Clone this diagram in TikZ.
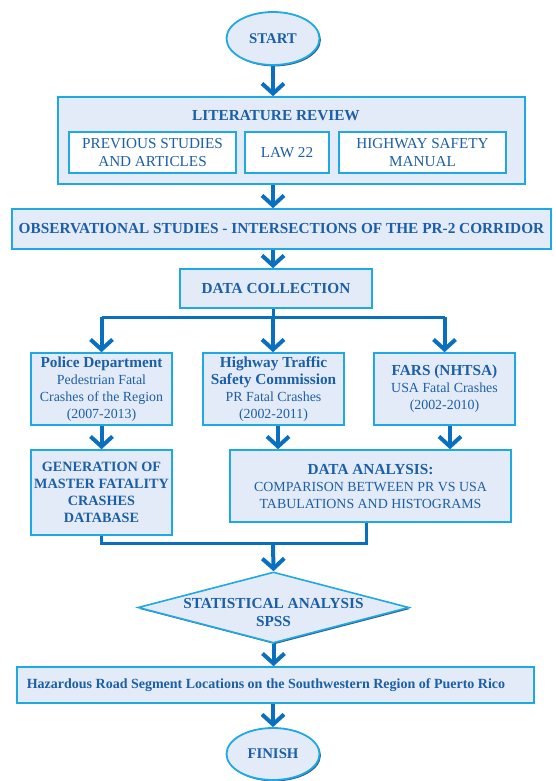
\documentclass[tikz,border=0pt]{standalone}
\usepackage{fontspec}
\setmainfont{Liberation Serif}
\usetikzlibrary{shapes.geometric,arrows.meta,shadows}
\definecolor{boxc}{HTML}{1FA9E3}
\definecolor{fillc}{HTML}{E4EBF8}
\definecolor{textc}{HTML}{1B5FA6}
\definecolor{arrc}{HTML}{0B6FBF}
\definecolor{shadc}{HTML}{2F5E8C}
\newcommand{\bigb}{\fontsize{15.3}{17}\selectfont\bfseries}
\newcommand{\smr}{\fontsize{13.9}{17}\selectfont\mdseries}
\tikzset{
  x=1pt,y=1pt,
  sh/.style={drop shadow={shadow xshift=1.4pt,shadow yshift=-1.4pt,fill=shadc,opacity=1}},
  mainbox/.style={draw=boxc,fill=fillc,line width=1.6pt,inner sep=0pt,text=textc,align=center,sh,
    font=\bigb},
  innerbox/.style={draw=boxc,fill=white,line width=1.3pt,inner sep=0pt,text=textc,align=center,
    font=\fontsize{15.2}{18.5}\selectfont},
  oval/.style={ellipse,draw=boxc,fill=fillc,line width=1.8pt,inner sep=0pt,text=textc,sh,
    font=\fontsize{14.8}{17}\selectfont\bfseries},
  txt/.style={text=textc,align=center,inner sep=0pt,font=\bigb},
  arr/.style={draw=arrc,line width=4pt,-{Straight Barb[length=10pt,width=22pt,line width=4pt]}},
  ln/.style={draw=arrc,line width=3pt},
}
\begin{document}
\begin{tikzpicture}
\useasboundingbox (0,0) rectangle (555,-781);
% start
\node[oval,minimum width=93,minimum height=53] (start) at (273,-38.5) {START};
% literature review
\node[mainbox,minimum width=467,minimum height=87] (lit) at (291.5,-140.5) {};
\node[txt] (littitle) at (276,-116) {LITERATURE REVIEW};
\node[innerbox,minimum width=167,minimum height=41] (prev) at (152.5,-152.5) {PREVIOUS STUDIES\\AND ARTICLES};
\node[innerbox,minimum width=84,minimum height=41] (law) at (287,-152.5) {LAW 22};
\node[innerbox,minimum width=167,minimum height=41] (hsm) at (422.5,-152.5) {HIGHWAY SAFETY\\MANUAL};
% observational
\node[mainbox,minimum width=539,minimum height=40] (obs) at (281.5,-229) {OBSERVATIONAL STUDIES - INTERSECTIONS OF THE PR-2 CORRIDOR};
% data collection
\node[mainbox,minimum width=192,minimum height=39] (dc) at (276,-288.5) {DATA COLLECTION};
% three sources
\node[mainbox,minimum width=141,minimum height=72] (pol) at (101.5,-389) {Police Department\\{\smr Pedestrian Fatal}\\{\smr Crashes of the Region}\\{\smr (2007-2013)}};
\node[mainbox,minimum width=141,minimum height=72] (htsc) at (273.5,-389) {Highway Traffic\\Safety Commission\\{\smr PR Fatal Crashes}\\{\smr (2002-2011)}};
\node[mainbox,minimum width=141,minimum height=72] (fars) at (444.5,-389) {FARS (NHTSA)\\{\smr USA Fatal Crashes}\\{\smr (2002-2010)}};
% second row
\node[mainbox,minimum width=141,minimum height=85,font=\fontsize{14.2}{17}\selectfont\bfseries] (gen) at (101.5,-492.5) {GENERATION OF\\MASTER FATALITY\\CRASHES\\DATABASE};
\node[mainbox,minimum width=281,minimum height=72] (da) at (370.5,-486) {DATA ANALYSIS:\\{\smr COMPARISON BETWEEN PR VS USA}\\{\smr TABULATIONS AND HISTOGRAMS}};
% diamond
\node[diamond,draw=boxc,fill=fillc,line width=1.6pt,sh,inner sep=0pt,minimum width=271,minimum height=71] (stat) at (273.5,-607.5) {};
\node[txt,font=\fontsize{15.3}{18}\selectfont\bfseries] (stattext) at (273.5,-613) {STATISTICAL ANALYSIS\\SPSS};
% hazardous
\node[mainbox,minimum width=517,minimum height=36] (haz) at (275.5,-685) {};
\node[txt,font=\fontsize{14}{17}\selectfont\bfseries] (haztext) at (266,-685) {Hazardous Road Segment Locations on the Southwestern Region of Puerto Rico};
% finish
\node[oval,minimum width=93,minimum height=52] (fin) at (273,-754) {FINISH};
% coordinates
\coordinate (split) at (273,-317);
\coordinate (merge) at (273,-543);
% connectors
\draw[arr] (start) -- (lit.north -| start);
\draw[arr] (lit.south -| start) -- (obs.north -| start);
\draw[arr] (obs.south -| start) -- (dc.north -| start);
\draw[ln] (dc.south -| split) -- (split);
\draw[ln] (split -| pol) -- (split -| fars);
\draw[arr] (split -| pol) -- (pol.north);
\draw[arr] (split) -- (htsc.north -| split);
\draw[arr] (split -| fars) -- (fars.north);
\draw[arr] (pol) -- (gen);
\draw[arr] (htsc.south -| 278,0) -- (da.north -| 278,0);
\draw[arr] (fars.south -| 450,0) -- (da.north -| 450,0);
\draw[ln] (gen.south) |- (merge) -| (da.south -| 366,0);
\draw[arr] (merge) -- (stat.north);
\draw[arr] (stat.south) -- (haz.north -| stat);
\draw[arr] (haz.south -| fin) -- (fin.north);
\end{tikzpicture}
\end{document}
